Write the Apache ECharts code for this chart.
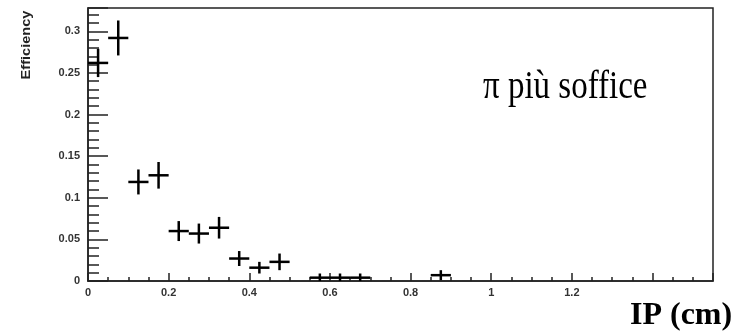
<!DOCTYPE html>
<html><head><meta charset="utf-8">
<script src="https://cdn.jsdelivr.net/npm/echarts@6/dist/echarts.min.js"></script>
<style>html,body{margin:0;padding:0;background:#fff}#c{width:746px;height:333px}</style>
</head><body><div id="c"></div>
<script>
// Data
var binCenters = [0.025,0.075,0.125,0.175,0.225,0.275,0.325,0.375,0.425,0.475,0.575,0.625,0.675,0.875];
var efficiency = [0.262,0.292,0.119,0.127,0.060,0.057,0.064,0.027,0.016,0.023,0.004,0.004,0.004,0.007];
var effError   = [0.017,0.021,0.015,0.016,0.012,0.012,0.013,0.009,0.007,0.010,0.005,0.005,0.005,0.006];
var binHalfWidth = 0.025;
var xTickLabels = ['0','0.2','0.4','0.6','0.8','1','1.2',''];
var yTickLabels = ['0','0.05','0.1','0.15','0.2','0.25','0.3'];

var data = binCenters.map(function(x,i){return [x, efficiency[i], effError[i]];});

var chart = echarts.init(document.getElementById('c'), null, {renderer:'canvas'});
var labelStyle = {fontFamily:'Liberation Sans', fontWeight:'bold', fontSize:11, color:'#333'};
chart.setOption({
  animation:false,
  grid:{left:88, top:8, right:33, bottom:52, show:true, borderColor:'#222', borderWidth:1.5, backgroundColor:'#fff'},
  xAxis:{type:'value', min:0, max:1.55, interval:0.2,
    axisLine:{lineStyle:{color:'#222', width:1.5}},
    axisTick:{inside:true, length:8, lineStyle:{color:'#222', width:1.5}},
    minorTick:{show:true, splitNumber:4, length:4, lineStyle:{color:'#222', width:1.5}},
    splitLine:{show:false},
    axisLabel:Object.assign({margin:6, showMaxLabel:false, formatter:function(v){var i=Math.round(v/0.2);return xTickLabels[i]!==undefined?xTickLabels[i]:'';}}, labelStyle)
  },
  yAxis:{type:'value', min:0, max:0.328, interval:0.05,
    axisLine:{lineStyle:{color:'#222', width:1.5}},
    axisTick:{inside:true, length:20, lineStyle:{color:'#222', width:1.5}},
    minorTick:{show:true, splitNumber:5, length:11, lineStyle:{color:'#222', width:1.5}},
    splitLine:{show:false},
    axisLabel:Object.assign({margin:8, showMaxLabel:false, formatter:function(v){var i=Math.round(v/0.05);return yTickLabels[i]!==undefined?yTickLabels[i]:'';}}, labelStyle)
  },
  series:[{
    type:'custom',
    data:data,
    clip:true,
    renderItem:function(params, api){
      var x=api.value(0), y=api.value(1), e=api.value(2);
      var lo=Math.max(0,y-e), hi=y+e;
      var pL=api.coord([x-binHalfWidth,y]), pR=api.coord([x+binHalfWidth,y]);
      var pB=api.coord([x,lo]), pT=api.coord([x,hi]);
      var st={stroke:'#000', lineWidth:2.5};
      return {type:'group', children:[
        {type:'line', shape:{x1:pL[0],y1:pL[1],x2:pR[0],y2:pR[1]}, style:st},
        {type:'line', shape:{x1:pB[0],y1:pB[1],x2:pT[0],y2:pT[1]}, style:st}
      ]};
    }
  }],
  graphic:[
    {type:'text', x:26.5, y:45, rotation:Math.PI/2, scaleX:1.12, style:{text:'Efficiency', font:'bold 13px "Liberation Sans"', fill:'#222', align:'center', verticalAlign:'middle'}},
    {type:'text', x:483, y:67.5, scaleY:1.22, style:{text:'π più soffice', font:'33px "Liberation Serif"', fill:'#000', verticalAlign:'top'}},
    {type:'text', x:630, y:299.5, style:{text:'IP (cm)', font:'bold 32px "Liberation Serif"', fill:'#000', verticalAlign:'top'}}
  ]
});
</script></body></html>
